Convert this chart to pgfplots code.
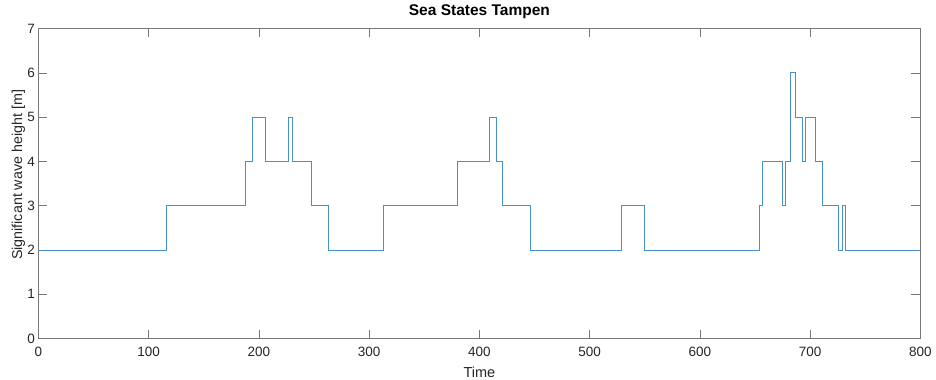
\documentclass[border=0pt]{standalone}
\usepackage{pgfplots}
\pgfplotsset{compat=1.18}
\usepackage{fontspec}
\setmainfont{Liberation Sans}
\definecolor{mblue}{RGB}{70,145,205}
\definecolor{axgray}{RGB}{120,120,120}
\begin{document}
\begin{tikzpicture}
\begin{axis}[
  at={(0,0)}, anchor=south west,
  scale only axis, width=881.8bp, height=310bp,
  xmin=0, xmax=800, ymin=0, ymax=7,
  xtick={0,100,...,800}, ytick={0,1,...,7},
  tick align=inside, major tick length=8.8bp,
  axis line style={axgray, line width=0.6bp},
  every tick/.style={axgray, line width=0.6bp},
  /pgf/number format/assume math mode=true,
  tick label style={font=\fontsize{13.5bp}{16bp}\selectfont, text=black!85},
  xticklabel style={anchor=base, yshift=-18.1bp},
  title={Sea States Tampen},
  title style={at={(axis description cs:0.5,1)}, anchor=base, yshift=7.6bp, font=\fontsize{15.5bp}{18bp}\selectfont\bfseries},
  xlabel={Time},
  xlabel style={at={(axis description cs:0.5,0)}, anchor=base, yshift=-38.4bp, font=\fontsize{14.5bp}{17bp}\selectfont, text=black!85},
  ylabel={Significant wave height [m]},
  ylabel style={at={(axis description cs:-0.01871,0.528)}, anchor=base, font=\fontsize{14.3bp}{17bp}\selectfont, text=black!85},
]
\addplot[const plot mark left, mblue, line width=0.8bp, mark=none] coordinates {
(0,2)(116,3)(188,4)(194,5)(206,4)(227,5)(230,4)(248,3)(263,2)
(313,3)(380,4)(409,5)(415,4)(421,3)(446,2)
(529,3)(550,2)
(654,3)(657,4)(675,3)(678,4)(682,6)(687,5)(693,4)(696,5)(705,4)(711,3)(726,2)(729,3)(732,2)(800,2)
};
\end{axis}
\pgfresetboundingbox
\useasboundingbox (-38.5bp,-41.4bp) rectangle (897.5bp,338.6bp);
\end{tikzpicture}
\end{document}
